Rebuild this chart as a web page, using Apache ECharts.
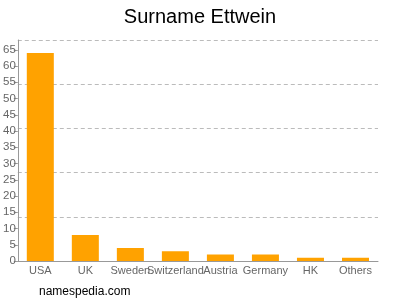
<!DOCTYPE html>
<html><head><meta charset="utf-8">
<script src="https://cdn.jsdelivr.net/npm/echarts@6/dist/echarts.min.js"></script>
<style>html,body{margin:0;padding:0;background:#fff}#c{width:400px;height:300px}</style>
</head><body><div id="c"></div>
<script>
var categories = ["USA","UK","Sweden","Switzerland","Austria","Germany","HK","Others"];
var values = [64, 8, 4, 3, 2, 2, 1, 1];
var yTicks = [0,5,10,15,20,25,30,35,40,45,50,55,60,65];
var yMax = 68;
var chart = echarts.init(document.getElementById('c'), null, {renderer:'canvas'});
chart.setOption({
  animation:false,
  title:{text:'Surname Ettwein', left:'center', top:2, textStyle:{fontFamily:'Liberation Sans', fontSize:20, fontWeight:'normal', color:'#000'}},
  graphic:[{type:'text', left:39, top:286, style:{text:'namespedia.com', font:'12px "Liberation Sans"', fill:'#000'}}],
  grid:{left:17, right:22, top:40, bottom:39},
  xAxis:{type:'category', data:categories,
    axisLine:{lineStyle:{color:'#999'}},
    axisTick:{alignWithLabel:true, length:4, lineStyle:{color:'#999'}},
    axisLabel:{color:'#666', fontSize:11, fontFamily:'Liberation Sans', interval:0, margin:4}},
  yAxis:[{type:'value', min:0, max:yMax, position:'left',
    axisLine:{show:true, lineStyle:{color:'#999'}},
    axisTick:{show:true, length:4, customValues:yTicks, lineStyle:{color:'#999'}},
    axisLabel:{customValues:yTicks, color:'#666', fontSize:11.5, fontFamily:'Liberation Sans', margin:2},
    splitLine:{show:false}},
   {type:'value', min:0, max:yMax, interval:13.6, position:'left',
    axisLine:{show:false}, axisTick:{show:false}, axisLabel:{show:false},
    splitLine:{show:true, lineStyle:{color:'#bbb', type:[4,3]}}}],
  series:[{type:'bar', data:values, yAxisIndex:0, barWidth:'60%', itemStyle:{color:'#FFA200'}}]
});
</script></body></html>
